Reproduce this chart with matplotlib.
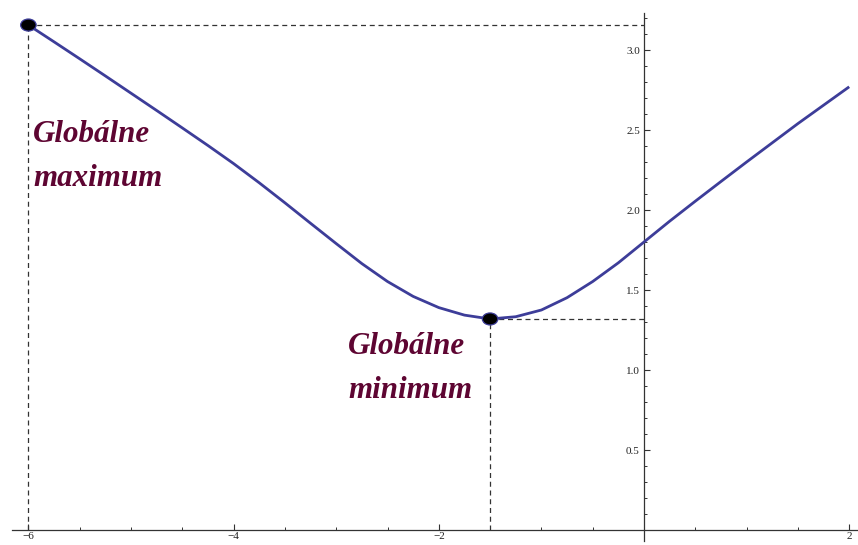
import matplotlib
matplotlib.use("Agg")
import matplotlib.pyplot as plt
from matplotlib.patches import Ellipse
import numpy as np

# Curve values
x_vals = [-6.0, -5.75, -5.5, -5.25, -5.0, -4.75, -4.5, -4.25, -4.0, -3.75, -3.5,
          -3.25, -3.0, -2.75, -2.5, -2.25, -2.0, -1.75, -1.5, -1.25, -1.0, -0.75,
          -0.5, -0.25, 0.0, 0.25, 0.5, 0.75, 1.0, 1.25, 1.5, 1.75, 2.0]
y_vals = [3.156, 3.051, 2.945, 2.838, 2.730, 2.622, 2.513, 2.403, 2.290, 2.170, 2.045,
          1.917, 1.790, 1.665, 1.553, 1.460, 1.390, 1.343, 1.319, 1.333, 1.375, 1.452,
          1.553, 1.670, 1.800, 1.930, 2.055, 2.178, 2.300, 2.420, 2.540, 2.655, 2.770]

max_pt = (-6.0, 3.156)
min_pt = (-1.5, 1.319)

x_major = [-6, -4, -2, 2]
x_major_labels = ["\u22126", "\u22124", "\u22122", "2"]
y_major = [0.5, 1.0, 1.5, 2.0, 2.5, 3.0]
y_major_labels = ["0.5", "1.0", "1.5", "2.0", "2.5", "3.0"]

label_max = "Globálne\nmaximum"
label_min = "Globálne\nminimum"

W, H = 858, 545
fig = plt.figure(figsize=(W / 100, H / 100), dpi=100)
ax = fig.add_axes([0, 0, 1, 1])
ax.set_xlim(-644 / 102.6, (W - 644) / 102.6)
ax.set_ylim(-(H - 530) / 160, 530 / 160)

curve_col = "#3d3d99"
dash_col = "#333333"
text_col = "#5e0532"

# dashed guide lines
for px, py in (max_pt, min_pt):
    ax.plot([px, 0], [py, py], ls=(0, (4, 3)), color=dash_col, lw=0.9, zorder=2)
    ax.plot([px, px], [0, py], ls=(0, (4, 3)), color=dash_col, lw=0.9, zorder=2)

ax.plot(x_vals, y_vals, color=curve_col, lw=2.0, zorder=3,
        solid_capstyle="butt", solid_joinstyle="round")

for px, py in (max_pt, min_pt):
    ax.add_patch(Ellipse((px, py), 0.151, 0.075, facecolor="black",
                         edgecolor=curve_col, lw=0.9, zorder=4))

font = dict(family=["Liberation Serif", "DejaVu Serif"], style="italic",
            weight="bold", size=22.3, color=text_col)
ax.text(-5.955, 2.56, label_max, ha="left", va="top", linespacing=1.66, **font)
ax.text(-2.885, 1.235, label_min, ha="left", va="top", linespacing=1.66, **font)

# axes through origin
for s in ("top", "right"):
    ax.spines[s].set_visible(False)
ax.spines["left"].set_position(("data", 0))
ax.spines["bottom"].set_position(("data", 0))
ax.spines["left"].set_bounds(-0.07, 3.23)
ax.spines["bottom"].set_bounds(-6.16, 2.086)
for s in ("left", "bottom"):
    ax.spines[s].set_color("#333333")
    ax.spines[s].set_linewidth(0.9)

ax.set_xticks(x_major)
ax.set_xticklabels(x_major_labels)
ax.set_xticks(np.arange(-6, 2.01, 0.5), minor=True)
ax.set_yticks(y_major)
ax.set_yticklabels(y_major_labels)
ax.set_yticks(np.arange(0.1, 3.21, 0.1), minor=True)

tick_font = ["Liberation Serif", "DejaVu Serif"]
ax.tick_params(axis="both", which="major", direction="in", length=4.5, width=0.8,
               color="#333333", labelsize=8, labelcolor="#222222", pad=3)
ax.tick_params(axis="both", which="minor", direction="in", length=2.5, width=0.7,
               color="#333333")
ax.tick_params(axis="x", which="major", pad=1.5)
for lab in ax.get_xticklabels() + ax.get_yticklabels():
    lab.set_family(tick_font)

fig.savefig("out.png", dpi=100)
